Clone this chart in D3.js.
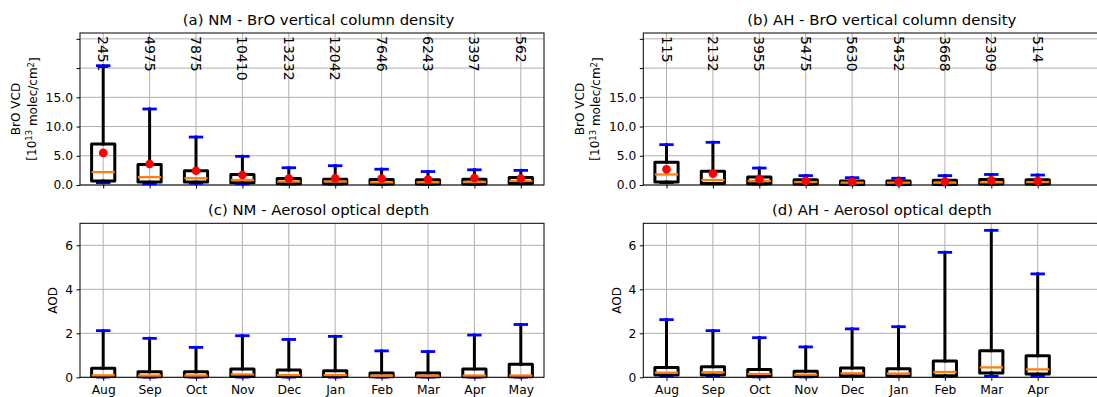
<!DOCTYPE html>
<html><head><meta charset="utf-8">
<script src="https://cdn.jsdelivr.net/npm/d3@7"></script>
<style>
html,body{margin:0;padding:0;background:#fff;}
text{font-family:"DejaVu Sans",sans-serif;fill:#000;}
</style></head>
<body><svg id="chart" width="1097" height="397"></svg>
<script>
// ---------- data ----------
const monthsNM = ["Aug","Sep","Oct","Nov","Dec","Jan","Feb","Mar","Apr","May"];
const monthsAH = ["Aug","Sep","Oct","Nov","Dec","Jan","Feb","Mar","Apr"];
const countsNM = [2451,4975,7875,10410,13232,12042,7646,6243,3397,562];
const countsAH = [115,2132,3955,5475,5630,5452,3668,2309,514];

// (a) NM BrO VCD [1e13 molec/cm2]
const nmBrOLo   = [0.4,0.2,0.3,0.2,0.15,0.15,0.1,0.1,0.1,0.2];
const nmBrOQ1   = [0.7,0.5,0.5,0.4,0.2,0.2,0.15,0.15,0.15,0.25];
const nmBrOMed  = [2.2,1.35,1.15,0.85,0.6,0.6,0.45,0.45,0.5,0.7];
const nmBrOQ3   = [7.0,3.5,2.45,1.8,1.1,1.0,0.95,0.9,1.0,1.3];
const nmBrOHi   = [20.4,13.0,8.2,4.9,2.95,3.3,2.7,2.3,2.6,2.5];
const nmBrOMean = [5.5,3.6,2.45,1.7,1.1,1.15,1.1,0.95,1.2,1.1];

// (b) AH BrO VCD
const ahBrOLo   = [0.4,0.2,0.15,0.1,0.05,0.05,0.05,0.1,0.1];
const ahBrOQ1   = [0.5,0.25,0.2,0.15,0.1,0.1,0.1,0.15,0.15];
const ahBrOMed  = [1.8,0.85,0.7,0.5,0.4,0.4,0.4,0.45,0.5];
const ahBrOQ3   = [3.9,2.35,1.35,0.9,0.7,0.7,0.8,0.95,0.9];
const ahBrOHi   = [6.9,7.3,2.9,1.6,1.25,1.15,1.6,1.8,1.7];
const ahBrOMean = [2.7,1.95,1.0,0.7,0.55,0.5,0.6,0.8,0.7];

// (c) NM AOD
const nmAodLo  = [0.01,0.01,0.01,0.01,0.01,0.01,0.01,0.01,0.01,0.01];
const nmAodQ1  = [0.04,0.03,0.03,0.04,0.04,0.04,0.03,0.03,0.03,0.03];
const nmAodMed = [0.09,0.08,0.08,0.13,0.1,0.1,0.07,0.07,0.08,0.08];
const nmAodQ3  = [0.41,0.25,0.25,0.38,0.33,0.3,0.2,0.2,0.38,0.59];
const nmAodHi  = [2.12,1.77,1.36,1.89,1.72,1.86,1.2,1.17,1.92,2.4];

// (d) AH AOD
const ahAodLo  = [0.05,0.05,0.02,0.02,0.03,0.03,0.03,0.05,0.05];
const ahAodQ1  = [0.1,0.1,0.05,0.05,0.07,0.06,0.07,0.2,0.15];
const ahAodMed = [0.21,0.23,0.15,0.12,0.18,0.17,0.24,0.45,0.36];
const ahAodQ3  = [0.44,0.48,0.35,0.27,0.42,0.39,0.74,1.21,0.98];
const ahAodHi  = [2.62,2.12,1.8,1.38,2.2,2.3,5.68,6.68,4.7];

const yTicksBrO = [0,5,10,15,20,25];
const yTickLabelsBrO = ["0.0","5.0","10.0","15.0","",""];
const yTicksAod = [0,2,4,6];
const yTickLabelsAod = ["0","2","4","6"];

const titles = ["(a) NM - BrO vertical column density","(b) AH - BrO vertical column density",
                "(c) NM - Aerosol optical depth","(d) AH - Aerosol optical depth"];

// ---------- layout ----------
const svg = d3.select("#chart");
const PW = 464;
const panels = [
  {title:titles[0], left:80,    top:33,  bottom:185,   ydom:[0,26], yt:yTicksBrO, ytl:yTickLabelsBrO, months:monthsNM, counts:countsNM,
   lo:nmBrOLo,q1:nmBrOQ1,med:nmBrOMed,q3:nmBrOQ3,hi:nmBrOHi,mean:nmBrOMean, brO:true, xlabels:false},
  {title:titles[1], left:643.3, top:33,  bottom:185,   ydom:[0,26], yt:yTicksBrO, ytl:yTickLabelsBrO, months:monthsAH, counts:countsAH,
   lo:ahBrOLo,q1:ahBrOQ1,med:ahBrOMed,q3:ahBrOQ3,hi:ahBrOHi,mean:ahBrOMean, brO:true, xlabels:false},
  {title:titles[2], left:80,    top:223.3, bottom:377.3, ydom:[0,7], yt:yTicksAod, ytl:yTickLabelsAod, months:monthsNM, counts:null,
   lo:nmAodLo,q1:nmAodQ1,med:nmAodMed,q3:nmAodQ3,hi:nmAodHi,mean:null, brO:false, xlabels:true},
  {title:titles[3], left:643.3, top:223.3, bottom:377.3, ydom:[0,7], yt:yTicksAod, ytl:yTickLabelsAod, months:monthsAH, counts:null,
   lo:ahAodLo,q1:ahAodQ1,med:ahAodMed,q3:ahAodQ3,hi:ahAodHi,mean:null, brO:false, xlabels:true},
];

const GRID = "#b0b0b0";

panels.forEach(p => {
  const x = d3.scaleLinear().domain([0.5,10.5]).range([p.left, p.left+PW]);
  const y = d3.scaleLinear().domain(p.ydom).range([p.bottom, p.top]);
  const g = svg.append("g");
  const idx = d3.range(p.months.length);

  // grid
  g.selectAll(null).data(idx).enter().append("line")
    .attr("x1", i=>x(i+1)).attr("x2", i=>x(i+1)).attr("y1", p.top).attr("y2", p.bottom)
    .attr("stroke", GRID).attr("stroke-width", 1);
  g.selectAll(null).data(p.yt).enter().append("line")
    .attr("x1", p.left).attr("x2", p.left+PW).attr("y1", d=>y(d)).attr("y2", d=>y(d))
    .attr("stroke", GRID).attr("stroke-width", 1);

  // axes
  const ya = d3.axisLeft(y).tickValues(p.yt).tickFormat((d,i)=>p.ytl[i]).tickSize(3.5).tickPadding(3.5);
  const yg = g.append("g").attr("transform", `translate(${p.left},0)`).call(ya);
  const xa = d3.axisBottom(x).tickValues(idx.map(i=>i+1)).tickFormat((d,i)=> p.xlabels ? p.months[i] : "").tickSize(3.5).tickPadding(4.5);
  const xg = g.append("g").attr("transform", `translate(0,${p.bottom})`).call(xa);
  [yg,xg].forEach(a=>{
    a.select(".domain").remove();
    a.selectAll(".tick line").attr("stroke","#000").attr("stroke-width",1);
    a.selectAll("text").style("font-family","DejaVu Sans").style("font-size","12.3px").attr("fill","#000");
  });
  // spines
  g.append("rect").attr("x",p.left).attr("y",p.top).attr("width",PW).attr("height",p.bottom-p.top)
    .attr("fill","none").attr("stroke","#000").attr("stroke-width",1);

  // title
  g.append("text").attr("x", p.left+PW/2+6.5).attr("y", p.top-8).attr("text-anchor","middle")
    .style("font-size","14.9px").text(p.title);

  // y label
  if (p.brO) {
    const t = g.append("text").attr("transform",`translate(${p.left-64},${(p.top+p.bottom)/2}) rotate(-90)`)
      .attr("text-anchor","middle").style("font-size","12px");
    t.append("tspan").attr("x",0).attr("dy","0.35em").text("BrO VCD");
    t.append("tspan").attr("x",0).attr("dy","1.3em").text("[10");
    t.append("tspan").attr("dy","-0.4em").style("font-size","8.5px").text("13");
    t.append("tspan").attr("dy","0.4em").text(" molec/cm");
    t.append("tspan").attr("dy","-0.4em").style("font-size","8.5px").text("2");
    t.append("tspan").attr("dy","0.4em").text("]");
  } else {
    g.append("text").attr("transform",`translate(${p.left-27},${(p.top+p.bottom)/2}) rotate(-90)`)
      .attr("text-anchor","middle").attr("dy","0.35em").style("font-size","12px").text("AOD");
  }

  // counts
  if (p.counts) {
    g.selectAll(null).data(idx).enter().append("text")
      .attr("transform", i=>`translate(${x(i+1)},${p.top+3}) rotate(90)`)
      .attr("text-anchor","start").attr("dy","0.35em").style("font-size","14px")
      .text(i=>p.counts[i]);
  }

  const bw = 0.5, cw = 0.25;
  // whiskers
  g.selectAll(null).data(idx).enter().append("line")
    .attr("x1",i=>x(i+1)).attr("x2",i=>x(i+1)).attr("y1",i=>y(p.q3[i])).attr("y2",i=>y(p.hi[i]))
    .attr("stroke","#000").attr("stroke-width",3).attr("stroke-linecap","square");
  g.selectAll(null).data(idx).enter().append("line")
    .attr("x1",i=>x(i+1)).attr("x2",i=>x(i+1)).attr("y1",i=>y(p.q1[i])).attr("y2",i=>y(p.lo[i]))
    .attr("stroke","#000").attr("stroke-width",3).attr("stroke-linecap","square");
  // caps
  ["hi","lo"].forEach(k=>{
    g.selectAll(null).data(idx).enter().append("line")
      .attr("x1",i=>x(i+1-cw/2)).attr("x2",i=>x(i+1+cw/2)).attr("y1",i=>y(p[k][i])).attr("y2",i=>y(p[k][i]))
      .attr("stroke","#0000ff").attr("stroke-width",2.8).attr("stroke-linecap","square");
  });
  // boxes
  g.selectAll(null).data(idx).enter().append("rect")
    .attr("x",i=>x(i+1-bw/2)).attr("width",i=>x(i+1+bw/2)-x(i+1-bw/2))
    .attr("y",i=>y(p.q3[i])).attr("height",i=>y(p.q1[i])-y(p.q3[i]))
    .attr("fill","none").attr("stroke","#000").attr("stroke-width",3).attr("stroke-linejoin","round");
  // medians
  g.selectAll(null).data(idx).enter().append("line")
    .attr("x1",i=>x(i+1-bw/2)).attr("x2",i=>x(i+1+bw/2)).attr("y1",i=>y(p.med[i])).attr("y2",i=>y(p.med[i]))
    .attr("stroke","#ff7f0e").attr("stroke-width",2.3);
  // means
  if (p.mean) {
    g.selectAll(null).data(idx).enter().append("circle")
      .attr("cx",i=>x(i+1)).attr("cy",i=>y(p.mean[i])).attr("r",4.3).attr("fill","#ff0000");
  }
});
</script></body></html>
